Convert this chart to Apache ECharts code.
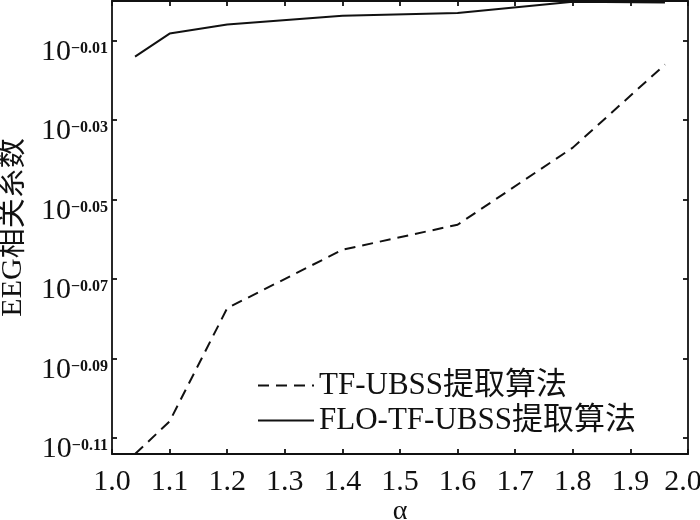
<!DOCTYPE html>
<html>
<head>
<meta charset="utf-8">
<script src="https://cdn.jsdelivr.net/npm/echarts@6/dist/echarts.min.js"></script>
<style>
html,body{margin:0;padding:0;background:#fff;}
#chart{width:700px;height:520px;}
</style>
</head>
<body>
<div id="chart"></div>
<script>
// alpha values (x)
const alphaValues = [1.04, 1.1, 1.2, 1.4, 1.6, 1.8, 1.96];
// log10 of EEG correlation coefficient (y axis is logarithmic, labelled 10^exp)
const tfUbssExp = [-0.1140, -0.1058, -0.0773, -0.0626, -0.0563, -0.0369, -0.0160];
const floTfUbssExp = [-0.0140, -0.0082, -0.0059, -0.0037, -0.0030, -0.0002, -0.0004];
// y tick exponents
const yTickExps = [-0.11, -0.09, -0.07, -0.05, -0.03, -0.01];
const seriesNames = ['TF-UBSS提取算法', 'FLO-TF-UBSS提取算法'];
const xName = 'α';
const yName = 'EEG相关系数';

const FONT = "'Liberation Serif', 'Noto Sans CJK SC', serif";
const pair = (xs, ys) => xs.map((x, i) => [x, ys[i]]);

const axisLineStyle = { color: '#111', width: 1.8 };
const chart = echarts.init(document.getElementById('chart'), null, { renderer: 'canvas' });
chart.setOption({
  backgroundColor: '#fff',
  animation: false,
  grid: { left: 112, right: 12, top: 1, bottom: 66, containLabel: false, outerBoundsMode: 'none' },
  legend: {
    orient: 'vertical',
    left: 257,
    top: 370,
    padding: 0,
    itemWidth: 56,
    itemHeight: 14,
    itemGap: 4,
    itemStyle: { opacity: 0 },
    textStyle: { fontFamily: FONT, fontSize: 31, color: '#111', lineHeight: 30 },
    data: seriesNames
  },
  xAxis: [{
    type: 'value', min: 1, max: 2, interval: 0.1, position: 'bottom',
    name: xName, nameLocation: 'middle', nameGap: 44, nameMoveOverlap: false,
    nameTextStyle: { fontFamily: FONT, fontSize: 28, color: '#111' },
    axisLine: { show: true, onZero: false, lineStyle: axisLineStyle },
    axisTick: { show: true, inside: true, length: 5, lineStyle: axisLineStyle },
    axisLabel: {
      margin: 13, fontFamily: FONT, fontSize: 30, color: '#111',
      formatter: v => (v >= 2 ? '{r|' + v.toFixed(1) + '}' : v.toFixed(1)),
      rich: { r: { fontFamily: FONT, fontSize: 30, color: '#111', padding: [0, 10, 0, 0] } }
    },
    splitLine: { show: false }
  }, {
    type: 'value', min: 1, max: 2, interval: 0.1, position: 'top',
    axisLine: { show: true, onZero: false, lineStyle: axisLineStyle },
    axisTick: { show: true, inside: true, length: 5, lineStyle: axisLineStyle },
    axisLabel: { show: false },
    splitLine: { show: false }
  }],
  yAxis: [{
    type: 'value', min: -0.114, max: 0, position: 'left',
    name: yName, nameLocation: 'middle', nameGap: 84, nameRotate: 90, nameMoveOverlap: false,
    nameTextStyle: { fontFamily: FONT, fontSize: 30, color: '#111' },
    axisLine: { show: true, onZero: false, lineStyle: axisLineStyle },
    axisTick: { show: true, inside: true, length: 5, lineStyle: axisLineStyle, customValues: yTickExps },
    axisLabel: {
      customValues: yTickExps,
      margin: 4,
      verticalAlign: 'top',
      formatter: v => '{b|10}{s|\u2212' + Math.abs(v).toFixed(2) + '}',
      rich: {
        b: { fontFamily: FONT, fontSize: 30, lineHeight: 26, color: '#111', verticalAlign: 'bottom' },
        s: { fontFamily: FONT, fontSize: 16, fontWeight: 'bold', lineHeight: 14, color: '#111', verticalAlign: 'top' }
      }
    },
    splitLine: { show: false }
  }, {
    type: 'value', min: -0.114, max: 0, position: 'right',
    axisLine: { show: true, onZero: false, lineStyle: axisLineStyle },
    axisTick: { show: true, inside: true, length: 5, lineStyle: axisLineStyle, customValues: yTickExps },
    axisLabel: { show: false },
    splitLine: { show: false }
  }],
  series: [{
    name: seriesNames[0], type: 'line', xAxisIndex: 0, yAxisIndex: 0,
    data: pair(alphaValues, tfUbssExp),
    symbol: 'none', color: '#111',
    lineStyle: { color: '#111', width: 2, type: [11, 7] }
  }, {
    name: seriesNames[1], type: 'line', xAxisIndex: 0, yAxisIndex: 0,
    data: pair(alphaValues, floTfUbssExp),
    symbol: 'none', color: '#111',
    lineStyle: { color: '#111', width: 2, type: 'solid' }
  }]
});
</script>
</body>
</html>
